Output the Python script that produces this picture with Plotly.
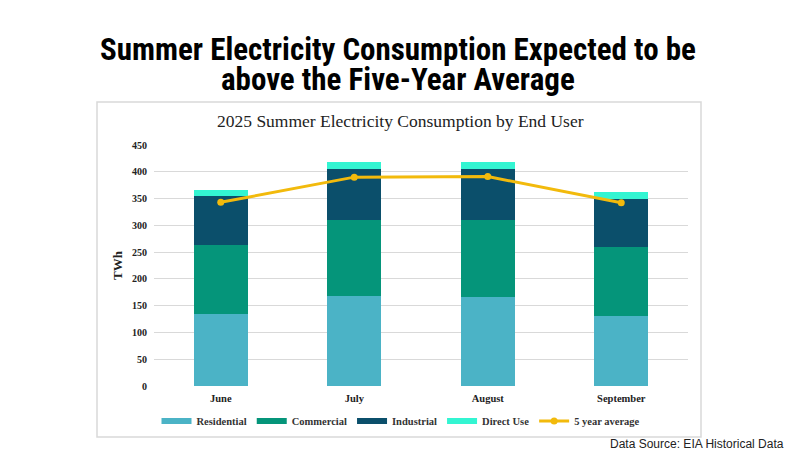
import plotly.graph_objects as go

months = ["June", "July", "August", "September"]
residential = [135, 168, 166, 131]
commercial = [128, 142, 144, 129]
industrial = [92, 95, 96, 90]
direct_use = [11, 13, 12, 12]
five_year_avg = [343, 390, 391, 342]
y_ticks = [0, 50, 100, 150, 200, 250, 300, 350, 400, 450]

W, H = 804, 452
serif = "Liberation Serif"
title_font = "Roboto Condensed, DejaVu Sans Condensed, Lato"


def py(pix):
    return (H - pix) / H


fig = go.Figure()
series = [
    ("Residential", residential, "#4BB3C6"),
    ("Commercial", commercial, "#05957A"),
    ("Industrial", industrial, "#0B4F6B"),
    ("Direct Use", direct_use, "#33F5D2"),
]
for name, vals, col in series:
    fig.add_trace(go.Bar(x=months, y=vals, name=name, showlegend=False,
                         marker=dict(color=col, line=dict(width=0))))

fig.add_trace(go.Scatter(x=months, y=five_year_avg, name="5 year average", mode="lines+markers",
                         showlegend=False,
                         line=dict(color="#F2BA0C", width=3), marker=dict(size=7, color="#F2BA0C")))

# legend entries (wide rectangular swatches like the reference)
for name, vals, col in series:
    fig.add_trace(go.Scatter(x=[None], y=[None], name=name, mode="lines",
                             line=dict(color=col, width=6)))
fig.add_trace(go.Scatter(x=[None], y=[None], name="5 year average", mode="lines+markers",
                         line=dict(color="#F2BA0C", width=3), marker=dict(size=7, color="#F2BA0C")))

fig.update_layout(
    width=W, height=H,
    margin=dict(l=0, r=0, t=0, b=0, autoexpand=False),
    paper_bgcolor="white", plot_bgcolor="white",
    barmode="stack", bargap=0.595,
    showlegend=True,
    legend=dict(orientation="h", x=401 / W, xanchor="center", y=py(421), yanchor="middle",
                font=dict(family=serif, size=10.5, color="#333", weight="bold"), traceorder="normal",
                itemwidth=30, tracegroupgap=0),
    xaxis=dict(domain=[154 / W, 688 / W], tickfont=dict(family=serif, size=10.5, color="#222", weight="bold"),
               ticklabelstandoff=4,
               showgrid=False, zeroline=False, showline=False, ticks="", automargin=False),
    yaxis=dict(domain=[py(386), py(145)], range=[0, 450], tickvals=y_ticks,
               tickfont=dict(family=serif, size=10, color="#222", weight="bold"),
               ticklabelstandoff=6, automargin=False,
               gridcolor="#D9D9D9", gridwidth=1, zeroline=False, showline=False, ticks="",
               title=dict(text="<b>TWh</b>", font=dict(family=serif, size=13, color="#222"), standoff=6)),
    shapes=[dict(type="rect", xref="paper", yref="paper", x0=97 / W, x1=701 / W,
                 y0=py(437), y1=py(102), line=dict(color="#D9D9D9", width=1.5), layer="below")],
    annotations=[
        dict(text="<b>Summer Electricity Consumption Expected to be</b>", x=398 / W, y=py(50),
             xref="paper", yref="paper", showarrow=False, xanchor="center", yanchor="middle",
             font=dict(family=title_font, size=31, color="black", weight=900)),
        dict(text="<b>above the Five-Year Average</b>", x=398 / W, y=py(79),
             xref="paper", yref="paper", showarrow=False, xanchor="center", yanchor="middle",
             font=dict(family=title_font, size=31, color="black", weight=900)),
        dict(text="2025 Summer Electricity Consumption by End User", x=400 / W, y=py(121),
             xref="paper", yref="paper", showarrow=False, xanchor="center", yanchor="middle",
             font=dict(family=serif, size=17.5, color="#222")),
        dict(text="Data Source: EIA Historical Data", x=786 / W, y=py(444),
             xref="paper", yref="paper", showarrow=False, xanchor="right", yanchor="middle",
             font=dict(family="Liberation Sans", size=12, color="#222")),
    ],
)

fig.write_html("out.html", config=dict(displayModeBar=False),
               post_script="document.body.style.margin='0';document.body.style.overflow='hidden';")
